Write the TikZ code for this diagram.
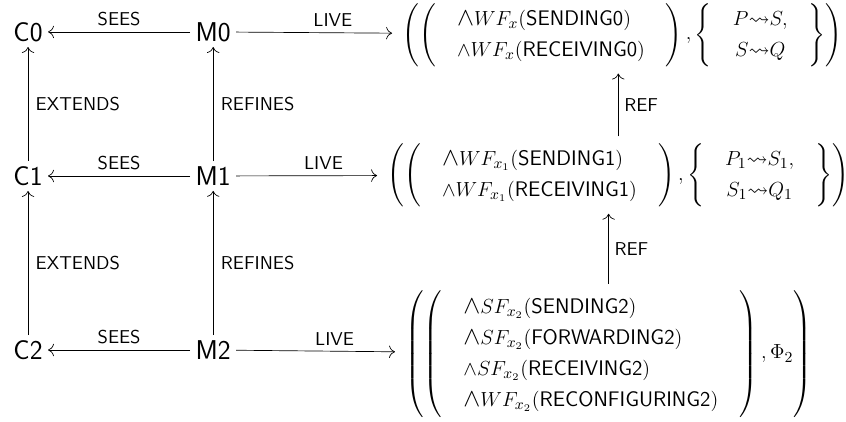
\documentclass[tikz,border=0pt]{standalone}
\usepackage{amsmath,amssymb}
\usetikzlibrary{positioning,arrows.meta}
\tikzset{
  comp/.style={font=\sffamily\fontsize{16}{19}\selectfont, inner sep=3pt},
  lbl/.style={font=\sffamily\fontsize{10.95}{13}\selectfont},
  prop/.style={inner xsep=6pt, inner ysep=4pt, anchor=west,
    font=\fontsize{12.4}{15}\selectfont},
}
\newcommand{\act}[1]{(\textsf{#1})}
\newcommand{\bigand}{\mathord{\scalebox{1.25}{$\wedge$}}}
\renewcommand{\arraystretch}{1.22}
\begin{document}
\begin{tikzpicture}[>={To[scale=1.4]}]
\useasboundingbox (0,0) rectangle (17.5,-8.71);
% Contexts and machines
\node[comp] (C0) at (0.58,-0.66) {C0};
\node[comp] (M0) at (4.41,-0.66) {M0};
\node[comp] (C1) at (0.58,-3.64) {C1};
\node[comp] (M1) at (4.41,-3.64) {M1};
\node[comp] (C2) at (0.58,-7.24) {C2};
\node[comp] (M2) at (4.41,-7.24) {M2};

% Liveness properties
\node[prop] (L0) at (8.11,-0.72) {$\left(\left(\begin{array}{@{\quad}l@{\quad}}
  \bigand WF_x\act{SENDING0}\\
  \wedge WF_x\act{RECEIVING0}
  \end{array}\right), \left\{\begin{array}{@{\quad}c@{\quad}}
  P{\leadsto}S,\\
  S{\leadsto}Q
  \end{array}\right\}\right)$};
\node[prop] (L1) at (7.80,-3.62) {$\left(\left(\begin{array}{@{\quad}l@{\quad}}
  \bigand WF_{x_1}\act{SENDING1}\\
  \wedge WF_{x_1}\act{RECEIVING1}
  \end{array}\right), \left\{\begin{array}{@{\quad}c@{\quad}}
  P_1{\leadsto}S_1,\\
  S_1{\leadsto}Q_1
  \end{array}\right\}\right)$};
\node[prop] (L2) at (8.17,-7.32) {$\left(\left(\begin{array}{@{\quad}l@{\quad}}
  \bigand SF_{x_2}\act{SENDING2}\\
  \bigand SF_{x_2}\act{FORWARDING2}\\
  \wedge SF_{x_2}\act{RECEIVING2}\\
  \bigand WF_{x_2}\act{RECONFIGURING2}
  \end{array}\right), \Phi_2\right)$};

% Horizontal links
\foreach \i in {0,1,2} {
  \draw[->] (M\i) -- node[lbl, above] {SEES} (C\i);
  \draw[->] (M\i) -- node[lbl, above, pos=0.62] {LIVE} (L\i);
}

% Vertical links
\foreach \i/\j in {1/0,2/1} {
  \draw[->] (C\i) -- node[lbl, right=1pt] {EXTENDS} (C\j);
  \draw[->] (M\i) -- node[lbl, right=1pt] {REFINES} (M\j);
  \draw[->] (L\i.north) -- node[lbl, right] {REF} (L\i.north |- L\j.south);
}
\end{tikzpicture}
\end{document}
